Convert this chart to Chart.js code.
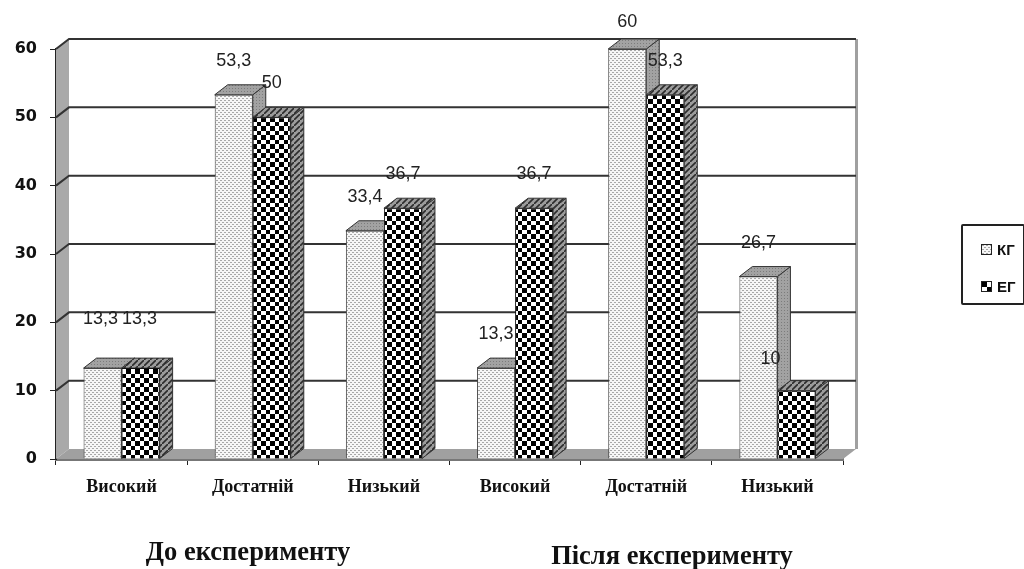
<!DOCTYPE html>
<html>
<head>
<meta charset="utf-8">
<script src="https://cdn.jsdelivr.net/npm/chart.js@4"></script>
<style>
  html, body { margin: 0; padding: 0; background: #fff; }
  #wrap { position: relative; width: 1024px; height: 569px; overflow: hidden; }
  .group { position: absolute; transform: translateX(-50%); font: bold 26.5px "Liberation Serif", serif; color: #111; white-space: nowrap; }
  #legend { position: absolute; left: 961px; top: 224px; width: 60px; height: 77px; border: 2px solid #222; border-radius: 2px; box-sizing: content-box; }
  .item { position: absolute; left: 18px; font: bold 15px "Liberation Sans", sans-serif; color: #111; line-height: 16px; }
  .item i { display: inline-block; width: 9px; height: 9px; border: 1px solid #222; margin-right: 5px; }
</style>
</head>
<body>
<div id="wrap">
  <canvas id="myChart" width="1024" height="569"></canvas>
  <div class="group" style="left:248px;top:536px">До експерименту</div>
  <div class="group" style="left:672px;top:540px">Після експерименту</div>
  <div id="legend"></div>
</div>
<script>
const categories = ["Високий", "Достатній", "Низький", "Високий", "Достатній", "Низький"];
const kgValues = [13.3, 53.3, 33.4, 13.3, 60, 26.7];
const egValues = [13.3, 50, 36.7, 36.7, 53.3, 10];
const kgLabels = ["13,3", "53,3", "33,4", "13,3", "60", "26,7"];
const egLabels = ["13,3", "50", "36,7", "36,7", "53,3", "10"];

// depth of the fake 3d box
const DX = 13;
const DY = 10;

function tile(w, h, paint) {
  const c = document.createElement("canvas");
  c.width = w;
  c.height = h;
  paint(c.getContext("2d"));
  return c;
}

const dotsTile = tile(4, 4, (g) => {
  g.fillStyle = "#f6f6f6";
  g.fillRect(0, 0, 4, 4);
  g.fillStyle = "#a8a8a8";
  g.fillRect(0, 0, 2, 1);
  g.fillRect(2, 2, 2, 1);
});
const checkTile = tile(9, 9, (g) => {
  g.fillStyle = "#fff";
  g.fillRect(0, 0, 9, 9);
  g.fillStyle = "#000";
  g.fillRect(0, 0, 5, 5);
  g.fillRect(5, 5, 4, 4);
});
const greyTile = tile(3, 3, (g) => {
  g.fillStyle = "#a2a2a2";
  g.fillRect(0, 0, 3, 3);
  g.fillStyle = "#7c7c7c";
  g.fillRect(1, 1, 1, 1);
});
const hatchTile = tile(6, 6, (g) => {
  g.fillStyle = "#9c9c9c";
  g.fillRect(0, 0, 6, 6);
  g.strokeStyle = "#2c2c2c";
  g.lineWidth = 1.6;
  g.beginPath();
  g.moveTo(-1, 7);
  g.lineTo(7, -1);
  g.stroke();
});

const ctx1 = document.getElementById("myChart");
const c2d = ctx1.getContext("2d");
const dots = c2d.createPattern(dotsTile, "repeat");
const check = c2d.createPattern(checkTile, "repeat");
const grey = c2d.createPattern(greyTile, "repeat");
const hatch = c2d.createPattern(hatchTile, "repeat");

function poly(ctx, pts, fill, stroke) {
  ctx.beginPath();
  pts.forEach((p, i) => (i ? ctx.lineTo(p[0], p[1]) : ctx.moveTo(p[0], p[1])));
  ctx.closePath();
  if (fill) {
    ctx.fillStyle = fill;
    ctx.fill();
  }
  if (stroke) {
    ctx.strokeStyle = stroke;
    ctx.lineWidth = 1;
    ctx.stroke();
  }
}

// walls, floor and grid lines sit behind the bars
const wallsPlugin = {
  id: "walls",
  beforeDatasetsDraw(chart) {
    const { ctx, chartArea: a, scales } = chart;
    const y = scales.y;
    const y0 = y.getPixelForValue(0);
    const yTop = y.getPixelForValue(60);
    ctx.save();
    poly(ctx, [[a.left, y0], [a.left + DX, y0 - DY], [a.left + DX, yTop - DY], [a.left, yTop]], "#a9a9a9");
    poly(ctx, [[a.left, y0], [a.left + DX, y0 - DY], [a.right + DX, y0 - DY], [a.right, y0]], "#a0a0a0");
    ctx.fillStyle = "#a0a0a0";
    ctx.fillRect(a.right + DX - 1, yTop - DY, 3, y0 - yTop);
    ctx.strokeStyle = "#333";
    ctx.lineWidth = 2;
    y.ticks.forEach((t) => {
      if (t.value === 0) return;
      const py = y.getPixelForValue(t.value);
      ctx.beginPath();
      ctx.moveTo(a.left, py);
      ctx.lineTo(a.left + DX, py - DY);
      ctx.lineTo(a.right + DX, py - DY);
      ctx.stroke();
    });
    // top and side faces, KG first so EG overlaps it
    [[0, grey, grey], [1, hatch, hatch]].forEach(([ds, topFill, sideFill]) => {
      chart.getDatasetMeta(ds).data.forEach((bar) => {
        const l = bar.x - bar.width / 2;
        const r = bar.x + bar.width / 2;
        poly(ctx, [[r, bar.y], [r + DX, bar.y - DY], [r + DX, bar.base - DY], [r, bar.base]], sideFill, "#333");
        poly(ctx, [[l, bar.y], [l + DX, bar.y - DY], [r + DX, bar.y - DY], [r, bar.y]], topFill, "#333");
      });
    });
    ctx.restore();
  },
};

// value labels, a few of them were moved by hand in the original
const labelNudges = { "0:0": [-2, -15], "1:0": [-1, -15], "0:4": [0, 7], "1:5": [-26, 2] };
const valueLabels = {
  id: "valueLabels",
  afterDatasetsDraw(chart) {
    const { ctx } = chart;
    ctx.save();
    ctx.font = '18px "Liberation Sans", sans-serif';
    ctx.fillStyle = "#222";
    ctx.textAlign = "center";
    ctx.textBaseline = "middle";
    [kgLabels, egLabels].forEach((labels, ds) => {
      chart.getDatasetMeta(ds).data.forEach((bar, i) => {
        const n = labelNudges[ds + ":" + i] || [0, 0];
        ctx.fillText(labels[i], bar.x + n[0], bar.y - 34 + n[1]);
      });
    });
    ctx.restore();
  },
};

const barChart = new Chart(ctx1, {
  type: "bar",
  data: {
    labels: categories,
    datasets: [
      { label: "КГ", data: kgValues, backgroundColor: dots, borderColor: "#444", borderWidth: 1 },
      { label: "ЕГ", data: egValues, backgroundColor: check, borderColor: "#111", borderWidth: 1 },
    ],
  },
  options: {
    responsive: false,
    animation: false,
    layout: { padding: { top: 49, right: 181, left: 0, bottom: 0 } },
    plugins: { legend: { display: false }, tooltip: { enabled: false } },
    datasets: { bar: { categoryPercentage: 0.58, barPercentage: 1 } },
    scales: {
      x: {
        afterFit: (s) => { s.height = 110; },
        grid: { drawOnChartArea: false, color: "#222", tickLength: 6 },
        border: { color: "#777", width: 3 },
        ticks: { font: { family: "Liberation Serif", size: 18, weight: "bold" }, color: "#111", padding: 12, maxRotation: 0 },
      },
      y: {
        min: 0,
        max: 60,
        afterFit: (s) => { s.width = 56; },
        grid: { drawOnChartArea: false, color: "#222", tickLength: 6 },
        border: { color: "#222", width: 2 },
        ticks: { stepSize: 10, font: { family: "DejaVu Sans", size: 16, weight: "bold" }, color: "#111", padding: 13 },
      },
    },
  },
  plugins: [wallsPlugin, valueLabels],
});

// legend box
const legendBox = document.getElementById("legend");
[[dotsTile, 16], [checkTile, 53]].forEach(([t, top], i) => {
  const item = document.createElement("div");
  item.className = "item";
  item.style.top = top + "px";
  const sw = document.createElement("i");
  sw.style.background = "url(" + t.toDataURL() + ")";
  item.appendChild(sw);
  item.appendChild(document.createTextNode(barChart.data.datasets[i].label));
  legendBox.appendChild(item);
});
</script>
</body>
</html>
